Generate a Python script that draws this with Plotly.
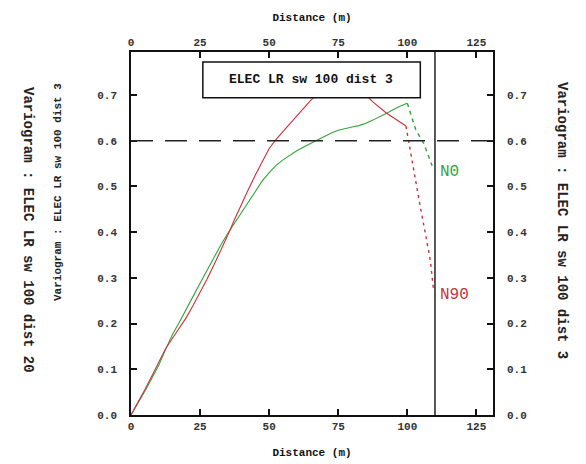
import plotly.graph_objects as go

# Experimental variogram, direction N0 (computed part, then the tail beyond 100 m)
lag_n0 = [0, 2.5, 5, 7.5, 10, 12.5, 15, 17.5, 20, 22.5, 25, 27.5, 30, 32.5, 35, 37.5, 40, 42.5,
          45, 47.5, 50, 52.5, 55, 57.5, 60, 62.5, 65, 67.5, 70, 72.5, 75, 77.5, 80, 82.5, 85,
          87.5, 90, 92.5, 95, 97.5, 100]
gamma_n0 = [0.0, 0.025, 0.052, 0.08, 0.108, 0.143, 0.176, 0.203, 0.23, 0.26, 0.288, 0.316,
            0.345, 0.372, 0.397, 0.42, 0.443, 0.468, 0.49, 0.512, 0.53, 0.546, 0.558, 0.568,
            0.578, 0.586, 0.594, 0.602, 0.61, 0.617, 0.623, 0.627, 0.63, 0.633, 0.638, 0.645,
            0.652, 0.66, 0.668, 0.676, 0.682]
tail_lag_n0 = [100, 103, 106, 108, 109]
tail_gamma_n0 = [0.682, 0.625, 0.593, 0.56, 0.545]

# Experimental variogram, direction N90
lag_n90 = [0, 2.5, 5, 7.5, 10, 12.5, 15, 17.5, 20, 22.5, 25, 27.5, 30, 32.5, 35, 37.5, 40, 42.5,
           45, 47.5, 50, 52.5, 55, 57.5, 60, 62.5, 65, 67.5, 70, 72.5, 75, 77.5, 80, 82.5, 85,
           87.5, 90, 92.5, 95, 97.5, 99.5]
gamma_n90 = [0.0, 0.027, 0.055, 0.085, 0.115, 0.145, 0.168, 0.19, 0.213, 0.24, 0.268, 0.297,
             0.328, 0.36, 0.393, 0.428, 0.462, 0.494, 0.525, 0.555, 0.583, 0.603, 0.62, 0.638,
             0.655, 0.672, 0.688, 0.702, 0.715, 0.724, 0.73, 0.732, 0.728, 0.718, 0.70, 0.685,
             0.672, 0.66, 0.65, 0.641, 0.632]
tail_lag_n90 = [99.5, 101, 103, 104.7, 106.5, 108.3, 109.4]
tail_gamma_n90 = [0.632, 0.58, 0.507, 0.455, 0.398, 0.339, 0.278]

sill = 0.6
max_dist = 110
x_ticks = [0, 25, 50, 75, 100, 125]
y_ticks = [0.0, 0.1, 0.2, 0.3, 0.4, 0.5, 0.6, 0.7]
x_range = [0, 131]
y_range = [0, 0.794]

GREEN = "#34a33a"
RED = "#c8323c"
MONO = "Liberation Mono"

fig = go.Figure()
fig.add_trace(go.Scatter(x=lag_n0, y=gamma_n0, mode="lines",
                         line=dict(color=GREEN, width=1.1), showlegend=False))
fig.add_trace(go.Scatter(x=tail_lag_n0, y=tail_gamma_n0, mode="lines",
                         line=dict(color=GREEN, width=1.4, dash="4px,4px"), showlegend=False))
fig.add_trace(go.Scatter(x=lag_n90, y=gamma_n90, mode="lines",
                         line=dict(color=RED, width=1.1), showlegend=False))
fig.add_trace(go.Scatter(x=tail_lag_n90, y=tail_gamma_n90, mode="lines",
                         line=dict(color=RED, width=1.4, dash="3px,4px"), showlegend=False))

# Sill and maximum distance
fig.add_shape(type="line", xref="x", yref="y", x0=x_range[0], x1=x_range[1], y0=sill, y1=sill,
              line=dict(color="#222", width=1.5, dash="22px,12px"))
fig.add_shape(type="line", xref="x", yref="y", x0=max_dist, x1=max_dist, y0=y_range[0], y1=y_range[1],
              line=dict(color="#222", width=1.5))

# Title box
fig.add_shape(type="rect", xref="x", yref="y", x0=26, x1=104.7, y0=0.694, y1=0.772,
              line=dict(color="#111", width=1.5), fillcolor="white", layer="above")
fig.add_annotation(x=65.3, y=0.733, xref="x", yref="y", text="ELEC LR sw 100 dist 3",
                   showarrow=False, font=dict(family=MONO, size=13, color="#111", weight="bold"))

# Direction labels
fig.add_annotation(x=111, y=0.532, xref="x", yref="y", text="N0", showarrow=False, xanchor="left",
                   font=dict(family=MONO, size=16, color=GREEN))
fig.add_annotation(x=111, y=0.263, xref="x", yref="y", text="N90", showarrow=False, xanchor="left",
                   font=dict(family=MONO, size=16, color=RED))

# Axis titles on the sides (positions given in pixels, converted below)
fig.add_annotation(x=18, y=230, xref="paper", yref="paper", text="Variogram : ELEC LR sw 100 dist 20",
                   showarrow=False, textangle=90,
                   font=dict(family=MONO, size=14, color="#222", weight="bold"))
fig.add_annotation(x=50, y=192, xref="paper", yref="paper", text="Variogram : ELEC LR sw 100 dist 3",
                   showarrow=False, textangle=-90,
                   font=dict(family=MONO, size=11, color="#222", weight="bold"))
fig.add_annotation(x=572, y=220, xref="paper", yref="paper", text="Variogram : ELEC LR sw 100 dist 3",
                   showarrow=False, textangle=90,
                   font=dict(family=MONO, size=14, color="#222", weight="bold"))

W, H = 586, 464
ML, MR, MT, MB = 131, 93, 52, 49
for ann in fig.layout.annotations:
    if ann.xref == "paper":
        ann.x = (ann.x - ML) / (W - ML - MR)
        ann.y = 1 - (ann.y - MT) / (H - MT - MB)

tickfont = dict(family=MONO, size=11, color="#333", weight="bold")
titlefont = dict(family=MONO, size=11, color="#111", weight="bold")
axis_common = dict(showgrid=False, zeroline=False, ticks="inside", ticklen=6, tickwidth=1.5,
                   tickcolor="#111", linecolor="#111", linewidth=1.5, showline=True,
                   tickfont=tickfont, automargin=False)

fig.update_layout(
    width=W, height=H,
    margin=dict(l=ML, r=MR, t=MT, b=MB, autoexpand=False),
    paper_bgcolor="white", plot_bgcolor="white",
    xaxis=dict(range=x_range, tickvals=x_ticks, title=dict(text="Distance (m)", font=titlefont, standoff=16),
               **axis_common),
    xaxis2=dict(range=x_range, tickvals=x_ticks, overlaying="x", side="top", matches="x",
                title=dict(text="Distance (m)", font=titlefont, standoff=13), **axis_common),
    yaxis=dict(range=y_range, tickvals=y_ticks, tickformat=".1f", ticklabelstandoff=10, **axis_common),
    yaxis2=dict(range=y_range, tickvals=y_ticks, tickformat=".1f", overlaying="y", side="right",
                matches="y", ticklabelstandoff=10, **axis_common),
)
# empty trace so the secondary axes are drawn
fig.add_trace(go.Scatter(x=[None], y=[None], xaxis="x2", yaxis="y2", showlegend=False))

fig.write_html("out.html")
